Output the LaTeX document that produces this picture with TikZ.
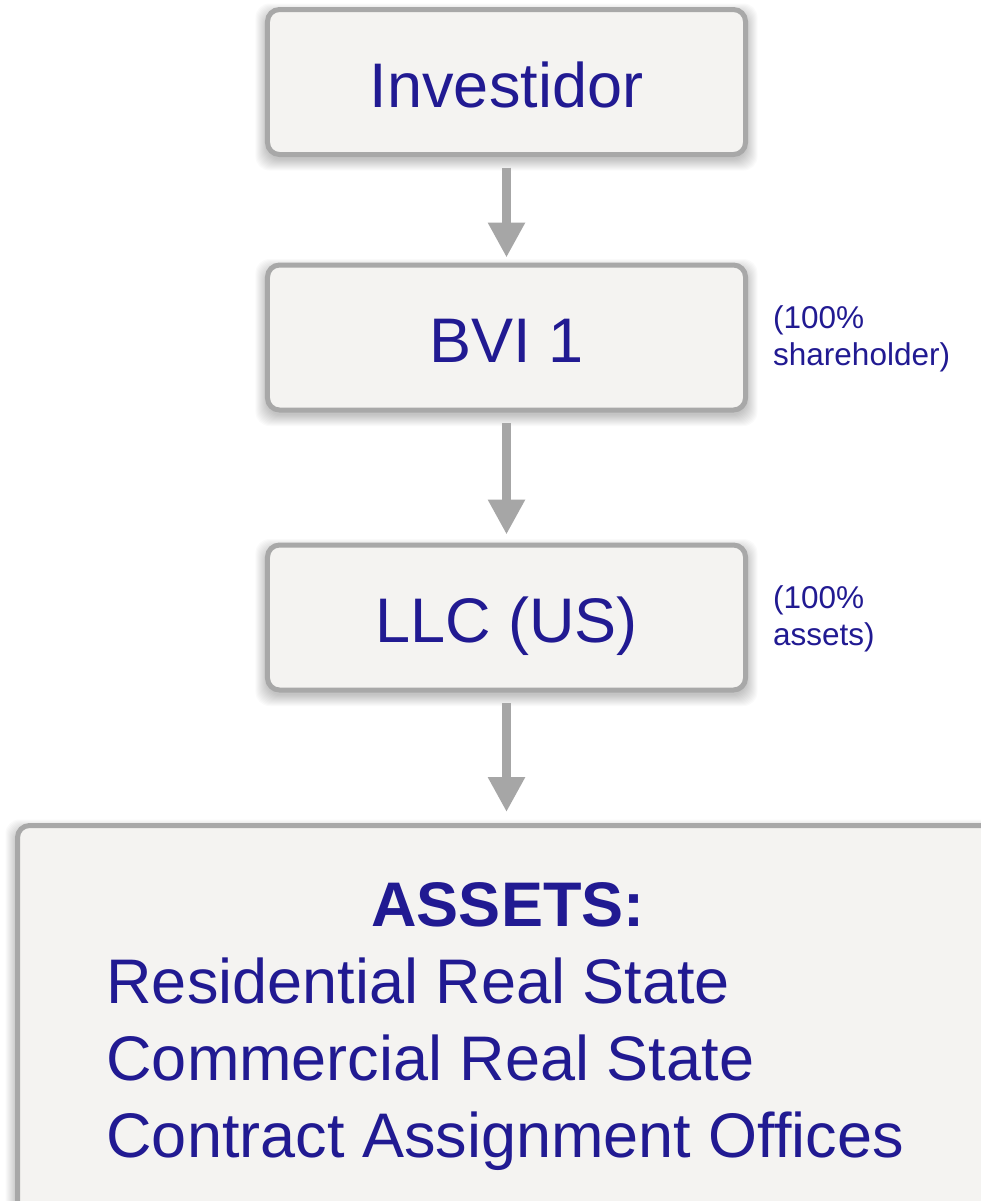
\documentclass[tikz,border=0pt]{standalone}
\usepackage{fontspec}
\setmainfont{Liberation Sans}
\usetikzlibrary{arrows.meta}
\definecolor{txt}{RGB}{33,26,146}
\definecolor{edge}{RGB}{168,168,168}
\definecolor{arrowgray}{RGB}{166,166,166}
\definecolor{boxfill}{RGB}{244,243,241}
\pgfdeclarelayer{bg}
\pgfdeclarelayer{shade}
\pgfsetlayers{bg,shade,main}
\tikzset{
  entity/.style={draw=edge, line width=5bp, fill=boxfill, rounded corners=12bp,
    minimum width=478bp, minimum height=145bp, inner sep=0pt, outer sep=0pt,
    text=txt, font=\fontsize{63bp}{75bp}\selectfont, text height=50bp, text depth=0pt},
  flow/.style={draw=arrowgray, line width=9bp, -{Triangle[width=35bp,length=35bp]},
    shorten <=13bp},
  note/.style={text=txt, font=\fontsize{31.5bp}{37bp}\selectfont, align=left,
    inner sep=0pt, anchor=base west},
}
\newcommand\boxshade[1]{%
  \begin{pgfonlayer}{shade}
  \foreach \i in {1,...,12}{
    \fill[black, opacity=0.02, rounded corners=14bp]
      ([xshift={-\i*1bp}, yshift={-(\i+4)*1bp}]#1.south west) rectangle
      ([xshift={\i*1bp}, yshift={(\i-6)*1bp}]#1.north east);
  }
  \end{pgfonlayer}}
\begin{document}
\begin{tikzpicture}[x=1bp, y=-1bp]
\useasboundingbox (0,0) rectangle (981,1201);
\begin{pgfonlayer}{bg}
  \fill[white] (0,0) rectangle (981,1201);
\end{pgfonlayer}
\clip (0,0) rectangle (981,1201);

\node[entity] (inv) at (506.5,82) {Investidor};
\node[entity] (bvi) at (506.5,337.5) {BVI 1};
\node[entity] (llc) at (506.5,617.5) {LLC (US)};
\path[draw=edge, line width=5bp, fill=boxfill, rounded corners=12bp]
  (17.5,825.5) coordinate (aNW) rectangle (1010,1240) coordinate (aSE);
\coordinate (assetstop) at (506.5,825.5);

\boxshade{inv}
\boxshade{bvi}
\boxshade{llc}
\begin{pgfonlayer}{shade}
  \foreach \i in {1,...,12}{
    \fill[black, opacity=0.02, rounded corners=14bp]
      ([xshift={-\i*1bp}, yshift={(\i-6)*1bp}]aNW) rectangle (1030,1260);
  }
\end{pgfonlayer}

\node[note] (n1) at (773,365) {(100\%\\shareholder)};
\node[note] (n2) at (773,645) {(100\%\\assets)};

\node[text=txt, font=\fontsize{63bp}{77bp}\selectfont, align=center, inner sep=0pt, anchor=base]
  (alist) at (508,1157) {\textbf{ASSETS:}\\
  \makebox[803bp][l]{Residential Real State}\\
  \makebox[803bp][l]{Commercial Real State}\\
  \makebox[803bp][l]{Contract Assignment Offices}};

\draw[flow, shorten >=7.5bp] (inv.south) -- (bvi.north);
\draw[flow, shorten >=10.5bp] (bvi.south) -- (llc.north);
\draw[flow, shorten >=13.5bp] (llc.south) -- (assetstop);
\end{tikzpicture}
\end{document}
